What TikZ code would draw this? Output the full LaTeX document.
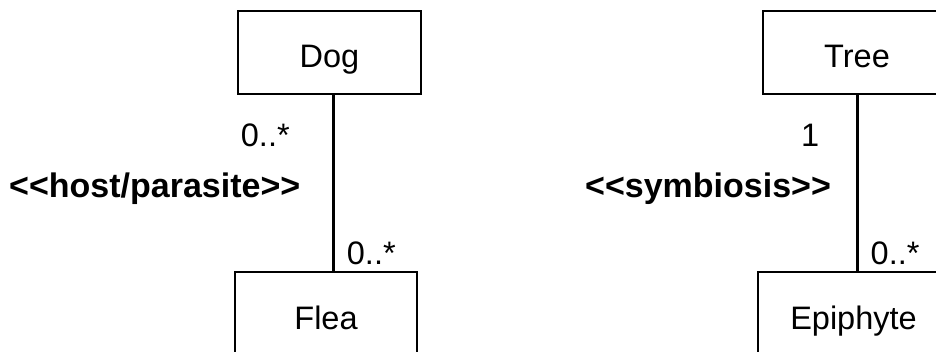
\documentclass[tikz,border=0pt]{standalone}
\usepackage{fontspec}
\setmainfont[Ligatures=NoCommon]{Liberation Sans}
\begin{document}
\begin{tikzpicture}[x=1pt,y=-1pt,
  classbox/.style={draw=black, line width=1.6pt, minimum height=83pt, inner sep=0pt,
    text height=31pt, text depth=0pt, font=\fontsize{32.5}{38}\selectfont},
  assoc/.style={draw=black, line width=3pt},
  mult/.style={inner sep=0pt, anchor=base west, font=\fontsize{32.5}{38}\selectfont},
  stereo/.style={inner sep=0pt, anchor=base west, font=\fontsize{34}{40}\selectfont\bfseries}]
\useasboundingbox (0,0) rectangle (936,352);
% left association
\node[classbox, minimum width=183pt] (dog) at (329.5,52.5) {Dog};
\node[classbox, minimum width=182pt] (flea) at (326,313.5) {Flea};
\coordinate (lx) at (333,0);
\draw[assoc] (dog.south -| lx) -- (flea.north -| lx);
\node[mult] (m1) at (240.7,147) {0..*};
\node[mult] (m2) at (346.7,265) {0..*};
\node[stereo] (s1) at (9,198) {{<}{<}host/parasite{>}{>}};
% right association
\node[classbox, minimum width=188pt] (tree) at (857,52.5) {Tree};
\node[classbox, minimum width=191pt] (epi) at (853.5,313.5) {Epiphyte};
\coordinate (rx) at (857,0);
\draw[assoc] (tree.south -| rx) -- (epi.north -| rx);
\node[mult] (m3) at (801,147) {1};
\node[mult] (m4) at (870.5,265) {0..*};
\node[stereo] (s2) at (585,198) {{<}{<}symbiosis{>}{>}};
\end{tikzpicture}
\end{document}
